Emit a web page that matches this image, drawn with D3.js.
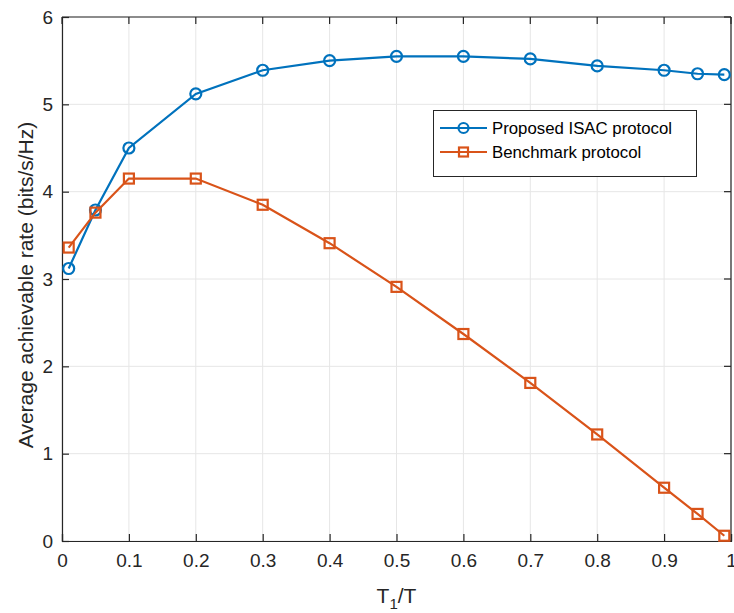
<!DOCTYPE html>
<html>
<head>
<meta charset="utf-8">
<script src="https://cdn.jsdelivr.net/npm/d3@7"></script>
<style>
body { margin: 0; background: #fff; }
text { font-family: "Liberation Sans", Arial, sans-serif; }
</style>
</head>
<body>
<svg id="chart" width="734" height="613"></svg>
<script>
// data
var ratios = [0.01, 0.05, 0.1, 0.2, 0.3, 0.4, 0.5, 0.6, 0.7, 0.8, 0.9, 0.95, 0.99]
var proposed = [3.12, 3.79, 4.50, 5.12, 5.39, 5.50, 5.55, 5.55, 5.52, 5.44, 5.39, 5.35, 5.34]
var benchmark = [3.36, 3.76, 4.15, 4.15, 3.85, 3.41, 2.91, 2.37, 1.81, 1.22, 0.61, 0.31, 0.06]
var seriesNames = ['Proposed ISAC protocol', 'Benchmark protocol']
var xTicks = [0, 0.1, 0.2, 0.3, 0.4, 0.5, 0.6, 0.7, 0.8, 0.9, 1]
var yTicks = [0, 1, 2, 3, 4, 5, 6]

var svg = d3.select('#chart')
var margin = {left: 62, top: 17, right: 3, bottom: 72}
var width = +svg.attr('width')
var height = +svg.attr('height')
var x0 = margin.left, x1 = width - margin.right
var y0 = height - margin.bottom, y1 = margin.top

var xscale = d3.scaleLinear().domain([0, 1]).range([x0, x1])
var yscale = d3.scaleLinear().domain([0, 6]).range([y0, y1])
var colors = ['#0072BD', '#D95319']
var axisColor = '#262626'

// grid
var grid = svg.append('g')
grid.selectAll('.gx').data(xTicks).enter().append('line')
    .attr('x1', d => xscale(d)).attr('x2', d => xscale(d))
    .attr('y1', y0).attr('y2', y1)
    .attr('stroke', '#e6e6e6').attr('stroke-width', 1)
grid.selectAll('.gy').data(yTicks).enter().append('line')
    .attr('x1', x0).attr('x2', x1)
    .attr('y1', d => yscale(d)).attr('y2', d => yscale(d))
    .attr('stroke', '#e6e6e6').attr('stroke-width', 1)

// axes (MATLAB style ticks inside)
var fmt = d3.format('~g')
var xAxis = svg.append('g')
    .attr('transform', 'translate(0,' + y0 + ')')
    .call(d3.axisBottom(xscale).tickValues(xTicks).tickSize(-7).tickPadding(13).tickFormat(fmt))
var yAxis = svg.append('g')
    .attr('transform', 'translate(' + x0 + ',0)')
    .call(d3.axisLeft(yscale).tickValues(yTicks).tickSize(-7).tickPadding(9).tickFormat(fmt))
for (var ax of [xAxis, yAxis]) {
    ax.select('.domain').attr('stroke', axisColor).attr('stroke-width', 1.2)
    ax.selectAll('.tick line').attr('stroke', axisColor).attr('stroke-width', 1.2)
    ax.selectAll('.tick text').attr('fill', axisColor).style('font-size', '19px')
        .style('font-family', '"Liberation Sans", Arial, sans-serif')
}
// box top and right
svg.append('line').attr('x1', x0).attr('x2', x1).attr('y1', y1).attr('y2', y1)
    .attr('stroke', axisColor).attr('stroke-width', 1.2)
svg.append('line').attr('x1', x1).attr('x2', x1).attr('y1', y0).attr('y2', y1)
    .attr('stroke', axisColor).attr('stroke-width', 1.2)
svg.append('g').selectAll('line').data(xTicks).enter().append('line')
    .attr('x1', d => xscale(d)).attr('x2', d => xscale(d))
    .attr('y1', y1).attr('y2', y1 + 7).attr('stroke', axisColor).attr('stroke-width', 1.2)
svg.append('g').selectAll('line').data(yTicks).enter().append('line')
    .attr('x1', x1).attr('x2', x1 - 7)
    .attr('y1', d => yscale(d)).attr('y2', d => yscale(d)).attr('stroke', axisColor).attr('stroke-width', 1.2)

// lines
var line = d3.line()
    .x(d => xscale(d[0]))
    .y(d => yscale(d[1]))
var allSeries = [proposed, benchmark]
allSeries.forEach(function (vals, s) {
    var pts = ratios.map((r, i) => [r, vals[i]])
    svg.append('path').attr('d', line(pts))
        .attr('fill', 'none').attr('stroke', colors[s]).attr('stroke-width', 2.2)
    var g = svg.append('g')
    if (s == 0) {
        g.selectAll('circle').data(pts).enter().append('circle')
            .attr('cx', d => xscale(d[0])).attr('cy', d => yscale(d[1])).attr('r', 5.5)
            .attr('fill', 'none').attr('stroke', colors[s]).attr('stroke-width', 2.2)
    } else {
        g.selectAll('rect').data(pts).enter().append('rect')
            .attr('x', d => xscale(d[0]) - 5).attr('y', d => yscale(d[1]) - 5)
            .attr('width', 10).attr('height', 10)
            .attr('fill', 'none').attr('stroke', colors[s]).attr('stroke-width', 2.2)
    }
})

// labels
svg.append('text').text('Average achievable rate (bits/s/Hz)')
    .attr('transform', 'translate(33,285) rotate(-90)')
    .attr('text-anchor', 'middle').attr('fill', axisColor).style('font-size', '21px')
var xl = svg.append('text').attr('x', (x0 + x1) / 2).attr('y', 603)
    .attr('text-anchor', 'middle').attr('fill', axisColor).style('font-size', '21px')
xl.append('tspan').text('T')
xl.append('tspan').text('1').attr('dy', 6).style('font-size', '15px')
xl.append('tspan').text('/T').attr('dy', -6)

// legend
var lg = svg.append('g')
lg.append('rect').attr('x', 433.5).attr('y', 110.5).attr('width', 263).attr('height', 66)
    .attr('fill', '#fff').attr('stroke', axisColor).attr('stroke-width', 1)
seriesNames.forEach(function (name, s) {
    var yy = 128 + s * 24
    lg.append('line').attr('x1', 440).attr('x2', 487).attr('y1', yy).attr('y2', yy)
        .attr('stroke', colors[s]).attr('stroke-width', 2.2)
    if (s == 0) {
        lg.append('circle').attr('cx', 463.5).attr('cy', yy).attr('r', 5)
            .attr('fill', 'none').attr('stroke', colors[s]).attr('stroke-width', 2.2)
    } else {
        lg.append('rect').attr('x', 459).attr('y', yy - 4.5).attr('width', 9).attr('height', 9)
            .attr('fill', 'none').attr('stroke', colors[s]).attr('stroke-width', 2.2)
    }
    lg.append('text').text(name).attr('x', 492).attr('y', yy + 6)
        .attr('fill', '#000').style('font-size', '16.8px')
})
</script>
</body>
</html>
